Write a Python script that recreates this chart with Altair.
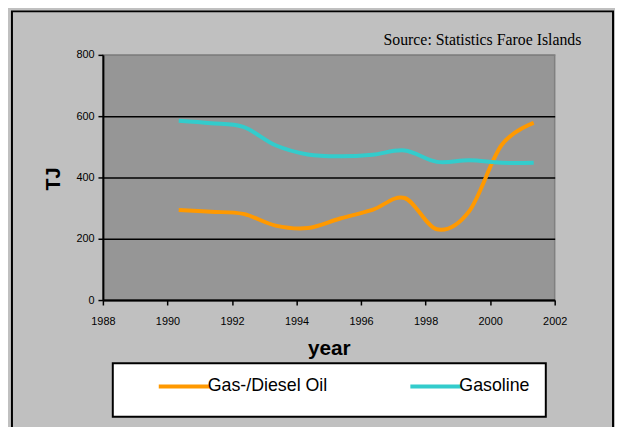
import altair as alt
import pandas as pd

# data
years = [1990.35, 1991.35, 1992.35, 1993.35, 1994.35, 1995.35,
         1996.35, 1997.35, 1998.35, 1999.35, 2000.35, 2001.35]
diesel = [294, 288, 281, 243, 235, 266, 294, 333, 231, 290, 505, 578]
gasoline = [585, 577, 565, 505, 475, 469, 474, 488, 451, 456, 448, 448]
series_names = ["Gas-/Diesel Oil", "Gasoline"]
series_colors = ["#FF9900", "#33CCCC"]
x_ticks = [1988, 1990, 1992, 1994, 1996, 1998, 2000, 2002]
y_ticks = [0, 200, 400, 600, 800]
source_text = "Source: Statistics Faroe Islands"

rows = []
for name, vals in zip(series_names, [diesel, gasoline]):
    for yr, v in zip(years, vals):
        rows.append({"year": yr, "value": v, "series": name})
df = pd.DataFrame(rows)

one = alt.Data(values=[{"k": 1}])

frame = alt.Chart(one).mark_rect(fillOpacity=0, stroke="black", strokeWidth=2).encode(
    x=alt.value(-92), x2=alt.value(516), y=alt.value(-44), y2=alt.value(420)
)

legend_box = alt.Chart(one).mark_rect(fill="white", stroke="black", strokeWidth=2).encode(
    x=alt.value(10), x2=alt.value(448), y=alt.value(312), y2=alt.value(366)
)

source = alt.Chart(one).mark_text(
    align="right", baseline="alphabetic", font="Liberation Serif", fontSize=16, color="black"
).encode(x=alt.value(484), y=alt.value(-9.5), text=alt.value(source_text))

lines = alt.Chart(df).mark_line(strokeWidth=4, interpolate="cardinal").encode(
    x=alt.X(
        "year:Q",
        scale=alt.Scale(domain=[1988, 2002], nice=False, zero=False),
        axis=alt.Axis(
            values=x_ticks, format="d", grid=False, title="year",
            titleFont="Liberation Sans", titleFontSize=21, titleFontWeight="bold",
            titleY=55, titleBaseline="alphabetic", labelPadding=11, tickSize=5,
            labelFlush=False, labelOverlap=False,
        ),
    ),
    y=alt.Y(
        "value:Q",
        scale=alt.Scale(domain=[0, 800], nice=False),
        axis=alt.Axis(
            values=y_ticks, title="TJ",
            titleFont="Liberation Sans", titleFontSize=20, titleFontWeight="bold",
            titleAngle=270, titleX=-50, titleY=125, titleAlign="center",
            titleBaseline="middle", labelPadding=4, tickSize=5,
            labelFlush=False,
            gridColor=alt.condition("datum.value === 800", alt.value("#808080"), alt.value("black")),
        ),
    ),
    color=alt.Color(
        "series:N",
        scale=alt.Scale(domain=series_names, range=series_colors),
        legend=alt.Legend(
            title=None, orient="none", legendX=53.5, legendY=326.5,
            direction="horizontal", symbolType="M-4,0H4", symbolSize=169,
            symbolStrokeWidth=4, labelFont="Liberation Sans", labelFontSize=18,
            labelColor="black", labelOffset=14.5, symbolOffset=20,
            columnPadding=75.5, padding=0, labelLimit=300,
        ),
    ),
)

chart = alt.layer(frame, legend_box, source, lines).properties(
    width=457,
    height=248,
    padding={"left": 96, "top": 45, "right": 61, "bottom": 126},
    autosize=alt.AutoSizeParams(type="none"),
    background="#C0C0C0",
).configure_view(
    fill="#969696", stroke="#808080", strokeWidth=1.5
).configure_axis(
    labelFont="Liberation Sans", labelFontSize=11, labelColor="black",
    tickColor="black", tickWidth=1.5, domainColor="black", domainWidth=2,
    gridColor="black", gridWidth=1.5, titleColor="black",
)

chart.save("out.html", embed_options={"renderer": "svg", "actions": False})
